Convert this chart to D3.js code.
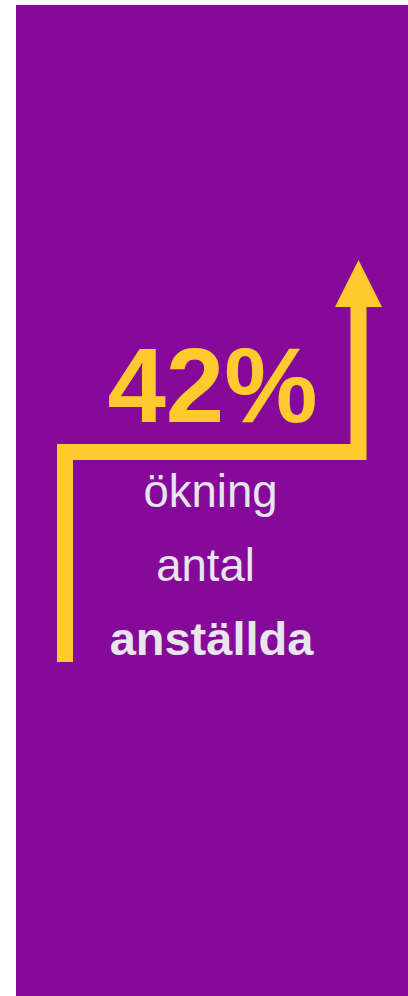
<!DOCTYPE html>
<html>
<head>
<meta charset="utf-8">
<script src="https://cdn.jsdelivr.net/npm/d3@7"></script>
<style>
html,body{margin:0;padding:0;background:#fff;}
svg{display:block;}
</style>
</head>
<body>
<svg id="chart" width="408" height="996"></svg>
<script>
const values = [42];
const valueSuffix = ["%"];
const labelLines = ["ökning", "antal", "anställda"];
const labelBold = [false, false, true];

const svg = d3.select("#chart");
const W = 408, H = 996;
const purple = "#850A9A", yellow = "#FFCA2E", grey = "#E8E6EC";

svg.append("rect").attr("x", 16).attr("y", 5).attr("width", W - 16).attr("height", H - 5).attr("fill", purple);

// arrow (step line)
const path = d3.path();
path.moveTo(65, 662);
path.lineTo(65, 452);
path.lineTo(358.5, 452);
path.lineTo(358.5, 305);
svg.append("path").attr("d", path.toString())
  .attr("fill", "none").attr("stroke", yellow).attr("stroke-width", 16)
  .attr("stroke-linejoin", "miter").attr("stroke-linecap", "butt");
svg.append("path")
  .attr("d", d3.line()([[335, 307], [382, 307], [358.5, 260]]) + "Z")
  .attr("fill", yellow);

// big number
svg.append("text").attr("x", 212.5).attr("y", 422)
  .attr("text-anchor", "middle")
  .attr("font-family", "Liberation Sans, Arial, sans-serif")
  .attr("font-weight", "bold").attr("font-size", 105)
  .attr("fill", yellow)
  .text(values[0] + valueSuffix[0]);

// label lines
const lineX = [210.5, 205.5, 211.5];
const lineY = d3.scalePoint().domain(labelLines).range([507, 655]);
svg.selectAll("text.lbl").data(labelLines).join("text")
  .attr("class", "lbl")
  .attr("x", (d, i) => lineX[i])
  .attr("y", d => lineY(d))
  .attr("text-anchor", "middle")
  .attr("font-family", "Liberation Sans, Arial, sans-serif")
  .attr("font-weight", (d, i) => labelBold[i] ? "bold" : "normal")
  .attr("font-size", (d, i) => labelBold[i] ? 47 : 45.5)
  .attr("fill", grey)
  .text(d => d);
</script>
</body>
</html>
